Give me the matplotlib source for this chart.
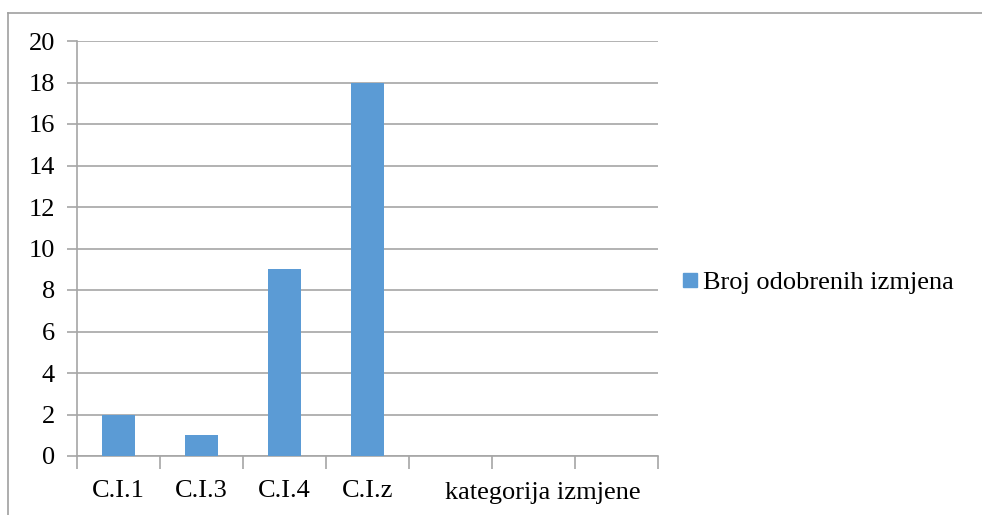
import numpy as np
import matplotlib
matplotlib.use('Agg')
import matplotlib.pyplot as plt
from matplotlib.lines import Line2D
import matplotlib.transforms as mtransforms

plt.rcParams['font.family'] = ['Liberation Serif', 'DejaVu Serif']

categories = ['C.I.1', 'C.I.3', 'C.I.4', 'C.I.z']
values = [2, 1, 9, 18]
n_slots = 7
series_name = 'Broj odobrenih izmjena'
axis_title = 'kategorija izmjene'

bar_color = '#5B9BD5'
grid_color = '#A6A6A6'
fs = 19

fig = plt.figure(figsize=(9.82, 5.15), dpi=100)
ax = fig.add_axes([77/982, 59/515, 581/982, 415/515])

x = np.arange(len(categories))
ax.bar(x, values, width=0.4, color=bar_color, zorder=3, label=series_name)

ax.set_xlim(-0.5, n_slots - 0.5)
ax.set_ylim(0, 20)
ax.set_yticks(np.arange(0, 21, 2))
ax.yaxis.grid(True, color=grid_color, linewidth=1.2, zorder=0)

ax.set_xticks(x)
ax.set_xticklabels(categories, fontsize=fs)
ax.set_xticks(np.arange(-0.5, n_slots, 1), minor=True)
ax.tick_params(axis='x', which='major', length=0, pad=17)
ax.tick_params(axis='x', which='minor', length=9, width=1.2, color=grid_color)
ax.tick_params(axis='y', length=7, width=1.2, color=grid_color, labelsize=fs, pad=9)

for s in ['top', 'right']:
    ax.spines[s].set_visible(False)
for s in ['left', 'bottom']:
    ax.spines[s].set_color(grid_color)
    ax.spines[s].set_linewidth(1.2)

trans = mtransforms.blended_transform_factory(ax.transData, fig.transFigure)
ax.text(5.11, 1 - 493/515, axis_title, transform=trans, ha='center', va='center', fontsize=fs)

handle = Line2D([], [], marker='s', linestyle='none', markersize=10.5, color=bar_color)
fig.legend([handle], [series_name], loc='center left', bbox_to_anchor=(678/982, 1 - 282/515),
           frameon=False, fontsize=fs, handletextpad=0.05, handlelength=0.9, borderaxespad=0,
           borderpad=0)

# outer chart frame (only left and top edges visible)
fig.add_artist(Line2D([8/982, 8/982], [0, 1 - 13/515], transform=fig.transFigure, color='#A0A0A0', linewidth=1.2))
fig.add_artist(Line2D([8/982, 1], [1 - 13/515, 1 - 13/515], transform=fig.transFigure, color='#A0A0A0', linewidth=1.2))

fig.savefig('out.png', dpi=100)
